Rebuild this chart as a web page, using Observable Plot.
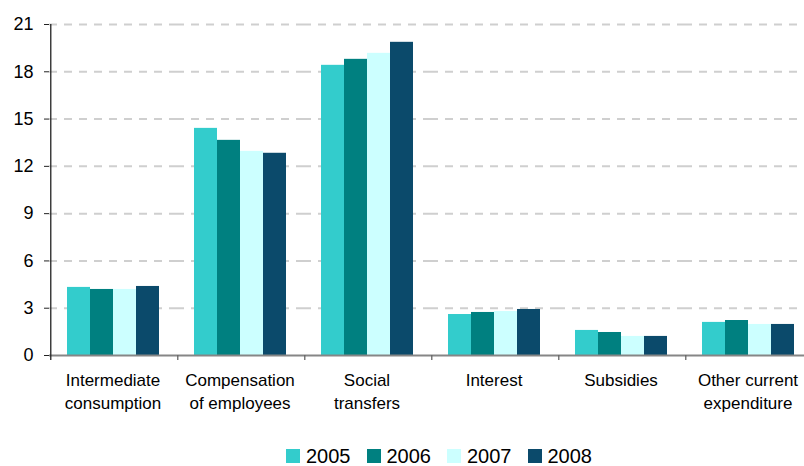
<!DOCTYPE html>
<html><head><meta charset="utf-8">
<script src="https://cdn.jsdelivr.net/npm/d3@7"></script>
<script src="https://cdn.jsdelivr.net/npm/@observablehq/plot@0.6"></script>
<style>
html,body{margin:0;padding:0;background:#fff}
body{width:804px;height:466px;overflow:hidden;position:relative;font-family:"Liberation Sans",Arial,sans-serif}
#chart{width:804px;overflow:hidden}
#chart svg{max-width:none !important}
#legend{position:absolute;left:286px;top:446px;display:flex;align-items:center;font-size:20px;line-height:20px;color:#000}
#legend .item{display:flex;align-items:center;margin-right:16px}
#legend .sw{display:inline-block;width:14px;height:14px;margin-right:6px}
</style></head><body>
<div id="chart"></div>
<div id="legend"></div>
<script>
const categories = ["Intermediate\nconsumption", "Compensation\nof employees", "Social\ntransfers", "Interest", "Subsidies", "Other current\nexpenditure"];
const years = ["2005", "2006", "2007", "2008"];
const v2005 = [4.32, 14.41, 18.41, 2.60, 1.59, 2.10];
const v2006 = [4.19, 13.65, 18.79, 2.73, 1.46, 2.22];
const v2007 = [4.19, 12.95, 19.17, 2.79, 1.21, 1.97];
const v2008 = [4.38, 12.83, 19.87, 2.92, 1.21, 1.97];
const yTicks = [0, 3, 6, 9, 12, 15, 18, 21];
const colors = ["#33cccc", "#008080", "#ccffff", "#0b4a6b"];

const series = [v2005, v2006, v2007, v2008];
const table = categories.flatMap((c, i) => years.map((y, j) => ({category: c, year: y, value: series[j][i]})));

const W = 816, H = 442, ML = 49, MR = 5, MT = 24, MB = 87;
const facetW = (W - ML - MR) / categories.length;
const pad = 0.7;
const step = facetW / (years.length + 2 * pad);
const edgeOffset = -(pad * step + step / 2);

const chart = Plot.plot({
  width: W, height: H,
  marginLeft: ML, marginRight: MR, marginTop: MT, marginBottom: MB,
  style: {fontFamily: "Liberation Sans, Arial, sans-serif", background: "white", color: "#000", maxWidth: "none"},
  fx: {domain: categories, padding: 0, label: null},
  x: {domain: years, paddingInner: 0, paddingOuter: pad, axis: null},
  y: {domain: [0, 21], label: null},
  color: {domain: years, range: colors},
  marks: [
    Plot.gridY(yTicks.filter(t => t > 0), {stroke: "#cfcfcf", strokeOpacity: 1, strokeWidth: 2, strokeDasharray: "8,7"}),
    Plot.barY(table, {fx: "category", x: "year", y: "value", fill: "year"}),
    Plot.ruleY([0], {stroke: "#868686", strokeWidth: 2}),
    // category boundary ticks
    Plot.ruleX(categories.slice(1), {fx: d => d, x: () => years[0], dx: edgeOffset, y1: 0, y2: 0, insetBottom: -5, stroke: "#666", strokeWidth: 1.3}),
    // y axis line (left edge of first category)
    Plot.ruleX([categories[0]], {fx: d => d, x: () => years[0], dx: edgeOffset, y1: 21, y2: 0, insetBottom: -5, stroke: "#222", strokeWidth: 1.3}),
    Plot.axisY(yTicks, {tickSize: 5, tickPadding: 11, fontSize: 18, stroke: "#222", fill: "#000", label: null}),
    Plot.axisFx({anchor: "bottom", tickSize: 0, tickPadding: 14, fontSize: 17, lineHeight: 1.35, fill: "#000", label: null})
  ]
});
document.getElementById("chart").append(chart);

const legend = d3.select("#legend");
years.forEach((y, j) => {
  const it = legend.append("span").attr("class", "item");
  it.append("span").attr("class", "sw").style("background", colors[j]);
  it.append("span").text(y);
});
</script>
</body></html>
